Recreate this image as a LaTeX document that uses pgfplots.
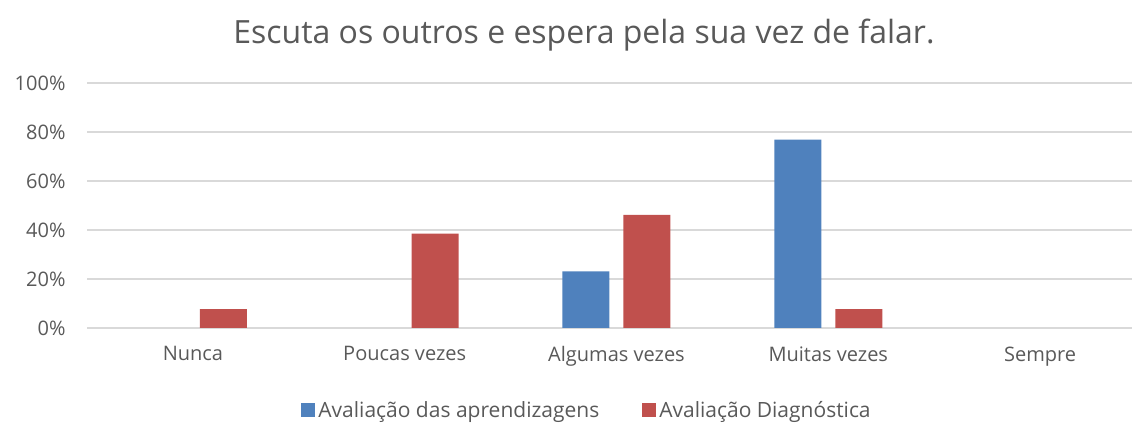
\documentclass[border=0pt]{standalone}
\usepackage{pgfplots}
\pgfplotsset{compat=1.18}
\usepackage{fontspec}
\setmainfont{Open Sans}
\definecolor{cblue}{HTML}{4F81BD}
\definecolor{cred}{HTML}{C0504D}
\definecolor{cgrid}{HTML}{D9D9D9}
\definecolor{ctext}{HTML}{595959}
\begin{document}
\begin{tikzpicture}[x=1pt,y=1pt]
\useasboundingbox (0,0) rectangle (1132,423);
\begin{axis}[
  at={(87pt,95pt)}, anchor=south west,
  scale only axis, width=1045pt, height=245pt,
  xmin=-0.5, xmax=4.434, ymin=0, ymax=100,
  ybar=14pt, bar width=47pt,
  unbounded coords=discard,
  y filter/.expression={y==0 ? nan : y},
  axis line style={draw=none},
  xtick={0,1,2,3,4}, xticklabels={Nunca,Poucas vezes,Algumas vezes,Muitas vezes,Sempre},
  ytick={0,20,40,60,80,100},
  yticklabels={0\%,20\%,40\%,60\%,80\%,100\%},
  ymajorgrids, grid style={cgrid, line width=1.5pt},
  major tick length=0pt,
  tick label style={font=\fontsize{20}{24}\selectfont, text=ctext},
  xticklabel style={yshift=-15pt},
  yticklabel style={xshift=-18pt},
  legend style={at={(0.479,-0.335)}, anchor=center, draw=none, fill=none,
    font=\fontsize{21}{25}\selectfont, text=ctext, legend columns=2,
    nodes={inner xsep=3pt},
    /tikz/every even column/.append style={column sep=40pt}},
  legend image code/.code={\fill[#1] (0pt,-7pt) rectangle (14pt,7pt);},
]
\addplot[fill=cblue, draw=none] coordinates {(0,0) (1,0) (2,23.1) (3,76.9) (4,0)};
\addplot[fill=cred, draw=none] coordinates {(0,7.7) (1,38.5) (2,46.2) (3,7.7) (4,0)};
\legend{Avaliação das aprendizagens, Avaliação Diagnóstica}
\end{axis}
\node[text=ctext, font=\fontsize{32}{38}\selectfont] at (584,388) {Escuta os outros e espera pela sua vez de falar.};
\end{tikzpicture}
\end{document}
